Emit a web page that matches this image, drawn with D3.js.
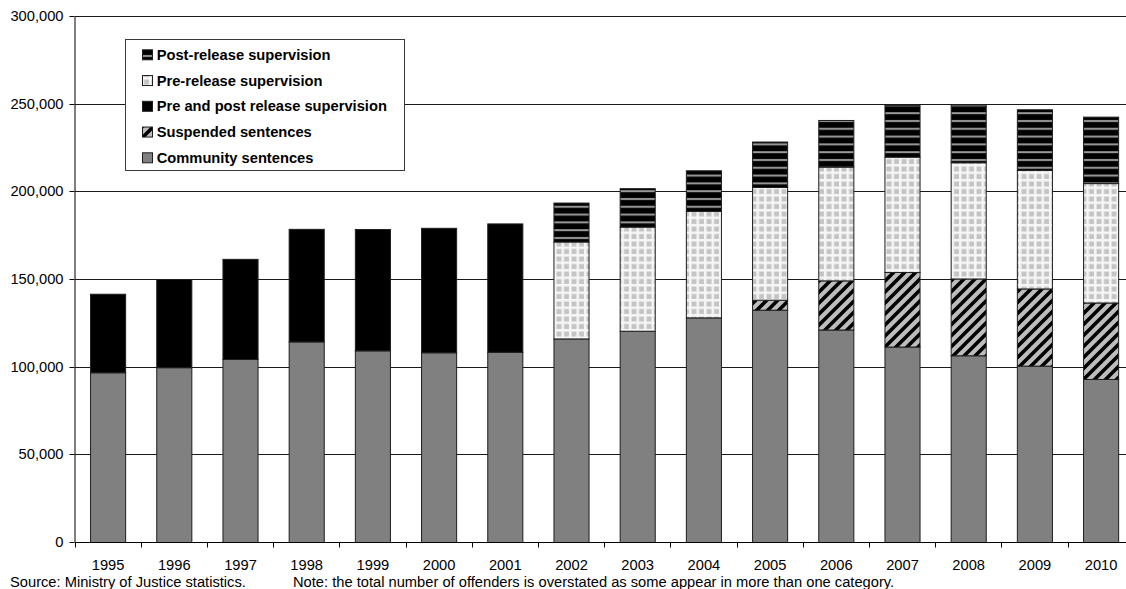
<!DOCTYPE html>
<html>
<head>
<meta charset="utf-8">
<script src="https://cdn.jsdelivr.net/npm/d3@7"></script>
<style>
  body { margin: 0; background: #fff; }
  svg { display: block; }
  text { font-family: "Liberation Sans", Arial, sans-serif; fill: #000; }
</style>
</head>
<body>
<svg id="chart" width="1126" height="589"></svg>
<script>
// Offenders under supervision by type, 1995-2010
const years = ["1995","1996","1997","1998","1999","2000","2001","2002","2003","2004","2005","2006","2007","2008","2009","2010"];
const communitySentences   = [96800, 99700, 104400, 114400, 109300, 108200, 108500, 116100, 120500, 128100, 132500, 121200, 111500, 106500, 100600, 93000];
const suspendedSentences   = [0, 0, 0, 0, 0, 0, 0, 0, 0, 0, 5700, 28000, 42500, 43800, 44000, 43600];
const prePostSupervision   = [44800, 50300, 57100, 64200, 69200, 71000, 73200, 0, 0, 0, 0, 0, 0, 0, 0, 0];
const preReleaseSupervision  = [0, 0, 0, 0, 0, 0, 0, 55300, 59400, 60800, 64300, 64900, 65800, 66300, 67600, 68100];
const postReleaseSupervision = [0, 0, 0, 0, 0, 0, 0, 22200, 21900, 23100, 25900, 26600, 29500, 32900, 34600, 37900];
const yTicks = [0, 50000, 100000, 150000, 200000, 250000, 300000];

const seriesKeys   = ["community", "suspended", "prePost", "preRelease", "postRelease"];
const seriesLabels = ["Community sentences", "Suspended sentences", "Pre and post release supervision",
                      "Pre-release supervision", "Post-release supervision"];
const seriesFills  = ["#808080", "url(#diag)", "#000000", "url(#grid)", "url(#hstripe)"];

const rows = years.map((yr, i) => ({
  year: yr,
  community: communitySentences[i],
  suspended: suspendedSentences[i],
  prePost: prePostSupervision[i],
  preRelease: preReleaseSupervision[i],
  postRelease: postReleaseSupervision[i]
}));
const stacked = d3.stack().keys(seriesKeys)(rows);

const svg = d3.select("#chart");
const FONT = "14.7px";

// Plot area runs past the right edge of the canvas
const x = d3.scaleBand().domain(years).range([75, 1134.2]).paddingInner(0.47).paddingOuter(0.235);
const y = d3.scaleLinear().domain([0, 300000]).range([542.5, 16.5]);
const crisp = v => Math.round(v - 0.5) + 0.5;

// Fill patterns
const defs = svg.append("defs");
const diag = defs.append("pattern").attr("id", "diag").attr("patternUnits", "userSpaceOnUse")
  .attr("width", 11).attr("height", 11);
diag.append("rect").attr("width", 11).attr("height", 11).attr("fill", "#bdbdbd");
diag.append("path").attr("d", "M-3,3 L3,-3 M0,11 L11,0 M8,14 L14,8")
  .attr("stroke", "#000").attr("stroke-width", 3.6);

const grid = defs.append("pattern").attr("id", "grid").attr("patternUnits", "userSpaceOnUse")
  .attr("width", 7.5).attr("height", 7.5);
grid.append("rect").attr("width", 7.5).attr("height", 7.5).attr("fill", "#f6f6f6");
grid.append("rect").attr("x", 1.5).attr("y", 1.5).attr("width", 5).attr("height", 5).attr("fill", "#c4c4c4");

const hs = defs.append("pattern").attr("id", "hstripe").attr("patternUnits", "userSpaceOnUse")
  .attr("width", 8).attr("height", 7.8);
hs.append("rect").attr("width", 8).attr("height", 7.8).attr("fill", "#000");
hs.append("rect").attr("y", 3).attr("width", 8).attr("height", 2).attr("fill", "#9a9a9a");

// Horizontal gridlines
svg.append("g").selectAll("line").data(yTicks).join("line")
  .attr("x1", 75).attr("x2", 1126)
  .attr("y1", d => crisp(y(d))).attr("y2", d => crisp(y(d)))
  .attr("stroke", "#1a1a1a").attr("stroke-width", 1);

// Stacked bars
svg.append("g").selectAll("g").data(stacked).join("g")
  .attr("fill", (d, i) => seriesFills[i])
  .selectAll("rect").data(d => d.filter(s => s[1] - s[0] > 0)).join("rect")
  .attr("x", d => x(d.data.year))
  .attr("width", x.bandwidth())
  .attr("y", d => y(d[1]))
  .attr("height", d => y(d[0]) - y(d[1]))
  .attr("stroke", "#1e1e1e").attr("stroke-width", 1);

// Y axis
const yAxis = svg.append("g").attr("transform", "translate(74.5,0)")
  .call(d3.axisLeft(y).tickValues(yTicks).tickFormat(d3.format(",")).tickSize(5).tickSizeOuter(0).tickPadding(6));
yAxis.selectAll("text").attr("font-size", FONT).attr("font-family", "Liberation Sans, Arial, sans-serif").attr("fill", "#000");
yAxis.selectAll("line, path").attr("stroke", "#000");
yAxis.selectAll(".tick").attr("transform", d => `translate(0,${crisp(y(d))})`);
yAxis.select(".domain").attr("d", `M0.5,${crisp(y(0))}V${crisp(y(300000))}`);

// X axis: baseline, ticks on category boundaries, year labels
const step = x.step();
const boundaries = years.map(yr => x(yr) - step * x.paddingOuter());
svg.append("line").attr("x1", 75).attr("x2", 1126)
  .attr("y1", crisp(y(0))).attr("y2", crisp(y(0))).attr("stroke", "#000");
svg.append("g").selectAll("line").data(boundaries).join("line")
  .attr("x1", d => crisp(d)).attr("x2", d => crisp(d))
  .attr("y1", crisp(y(0))).attr("y2", crisp(y(0)) + 5)
  .attr("stroke", "#000");
svg.append("g").selectAll("text").data(years).join("text")
  .attr("x", d => x(d) + x.bandwidth() / 2).attr("y", 570)
  .attr("text-anchor", "middle").attr("font-size", FONT)
  .text(d => d);

// Footnotes
svg.append("text").attr("x", 10).attr("y", 586.5).attr("font-size", FONT)
  .text("Source: Ministry of Justice statistics.");
svg.append("text").attr("x", 293).attr("y", 586.5).attr("font-size", FONT)
  .text("Note: the total number of offenders is overstated as some appear in more than one category.");

// Legend
const legend = svg.append("g");
legend.append("rect").attr("x", 125.5).attr("y", 39.5).attr("width", 279).attr("height", 131)
  .attr("fill", "#fff").attr("stroke", "#3a3a3a");
const legendOrder = seriesKeys.map((k, i) => i).reverse();
const item = legend.selectAll("g.item").data(legendOrder).join("g").attr("class", "item")
  .attr("transform", (d, j) => `translate(0,${59.8 + j * 25.75})`);
item.append("rect").attr("x", 142.5).attr("y", -10).attr("width", 10).attr("height", 10)
  .attr("fill", d => seriesFills[d]).attr("stroke", "#1e1e1e");
item.append("text").attr("x", 156.7).attr("y", 0).attr("font-size", FONT).attr("font-weight", "bold")
  .text(d => seriesLabels[d]);
</script>
</body>
</html>
